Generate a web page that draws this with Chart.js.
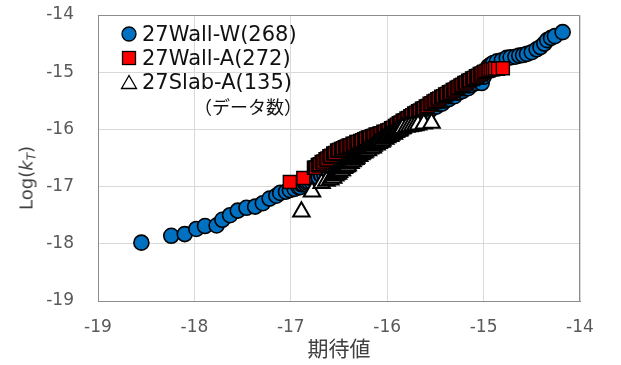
<!DOCTYPE html>
<html>
<head>
<meta charset="utf-8">
<script src="https://cdn.jsdelivr.net/npm/chart.js@4/dist/chart.umd.min.js"></script>
<style>
  html, body { margin: 0; padding: 0; background: #fff; }
  #wrap { position: relative; width: 621px; height: 365px; }
  #c { position: absolute; left: 0; top: 0; }
  #ytitle {
    position: absolute; left: 27px; top: 178px;
    transform: translate(-50%, -50%) rotate(-90deg);
    font: 18px "DejaVu Sans", "Noto Sans CJK JP", sans-serif; color: #404040;
    white-space: nowrap;
  }
  #ytitle sub { font-size: 12px; vertical-align: -3px; }
  #legend {
    position: absolute; left: 119px; top: 22px;
    font: 21px "DejaVu Sans", "Noto Sans CJK JP", sans-serif; color: #111;
    line-height: 24px; white-space: nowrap;
  }
  .row { height: 24px; display: flex; align-items: center; }
  .mk { width: 20px; height: 24px; display: flex; align-items: center; justify-content: center; margin-right: 3px; }
  .note { padding-left: 75px; font-size: 18px; font-family: "Noto Sans CJK JP", sans-serif; }
</style>
</head>
<body>
<div id="wrap">
  <canvas id="c" width="621" height="365"></canvas>
  <div id="ytitle">Log(<i>k</i><sub><i>T</i></sub>)</div>
  <div id="legend"></div>
</div>
<script>
// ---- data ----
const seriesLabels = ["27Wall-W(268)", "27Wall-A(272)", "27Slab-A(135)"];
const legendNote = "（データ数）";
const xTitle = "期待値";
const axisMin = -19;
const axisMax = -14;

// 27Wall-W : [expected, log kT]
const wallW = [
  [-18.55,-17.98],[-18.24,-17.86],[-18.10,-17.83],[-17.98,-17.74],[-17.89,-17.69],[-17.77,-17.68],[-17.71,-17.58],[-17.63,-17.50],
  [-17.55,-17.42],[-17.46,-17.37],[-17.37,-17.35],[-17.29,-17.29],[-17.22,-17.21],[-17.15,-17.16],[-17.11,-17.11],[-17.05,-17.09],
  [-17.01,-17.06],[-16.96,-17.04],[-16.92,-17.01],
  [-16.90,-17.01],[-16.89,-16.96],[-16.87,-16.96],[-16.86,-16.92],[-16.84,-16.96],[-16.83,-16.93],[-16.81,-16.92],[-16.80,-16.86],
  [-16.78,-16.92],[-16.77,-16.87],[-16.75,-16.83],[-16.74,-16.86],[-16.72,-16.79],[-16.71,-16.84],[-16.69,-16.79],[-16.68,-16.80],
  [-16.66,-16.73],[-16.65,-16.80],[-16.63,-16.74],[-16.62,-16.71],[-16.60,-16.73],[-16.59,-16.67],[-16.57,-16.72],[-16.56,-16.67],
  [-16.54,-16.67],[-16.53,-16.61],[-16.51,-16.67],[-16.50,-16.62],[-16.48,-16.58],[-16.47,-16.61],[-16.45,-16.54],[-16.44,-16.59],
  [-16.42,-16.53],[-16.41,-16.54],[-16.39,-16.47],[-16.38,-16.54],[-16.36,-16.47],[-16.35,-16.44],[-16.33,-16.46],[-16.32,-16.40],
  [-16.30,-16.44],[-16.29,-16.39],[-16.27,-16.39],[-16.26,-16.33],[-16.24,-16.39],[-16.23,-16.34],[-16.21,-16.30],[-16.20,-16.33],
  [-16.18,-16.26],[-16.17,-16.31],[-16.15,-16.25],[-16.14,-16.26],[-16.12,-16.19],[-16.11,-16.25],[-16.09,-16.19],[-16.08,-16.16],
  [-16.06,-16.18],[-16.05,-16.12],[-16.03,-16.16],[-16.02,-16.11],[-16.00,-16.11],[-15.99,-16.03],[-15.97,-16.09],[-15.96,-16.04],
  [-15.94,-16.00],[-15.93,-16.03],[-15.91,-15.96],[-15.90,-16.01],[-15.88,-15.95],[-15.87,-15.96],[-15.85,-15.89],[-15.84,-15.96],
  [-15.82,-15.90],[-15.81,-15.87],[-15.79,-15.89],[-15.78,-15.83],[-15.76,-15.87],[-15.75,-15.82],[-15.73,-15.82],[-15.72,-15.76],
  [-15.70,-15.82],[-15.69,-15.77],[-15.67,-15.73],[-15.66,-15.76],[-15.64,-15.69],[-15.63,-15.74],[-15.61,-15.68],[-15.60,-15.69],
  [-15.58,-15.62],[-15.57,-15.69],[-15.55,-15.63],[-15.54,-15.60],[-15.52,-15.62],[-15.51,-15.56],[-15.49,-15.60],[-15.48,-15.55],
  [-15.46,-15.55],[-15.45,-15.49],[-15.43,-15.55],[-15.42,-15.50],[-15.40,-15.46],[-15.39,-15.49],[-15.37,-15.42],[-15.36,-15.47],
  [-15.34,-15.41],[-15.33,-15.42],[-15.31,-15.35],[-15.30,-15.42],[-15.28,-15.36],[-15.27,-15.33],[-15.25,-15.35],[-15.24,-15.29],
  [-15.22,-15.33],[-15.21,-15.28],[-15.19,-15.28],[-15.18,-15.22],[-15.16,-15.28],[-15.15,-15.23],[-15.13,-15.19],[-15.12,-15.22],
  [-15.10,-15.15],[-15.08,-15.19],[-15.06,-15.13],[-15.04,-15.12],[-15.02,-15.19],[-15.00,-15.08],[-14.98,-15.00],[-14.96,-14.93],
  [-14.95,-14.90],[-14.92,-14.86],[-14.90,-14.84],[-14.86,-14.81],[-14.81,-14.79],[-14.76,-14.75],[-14.72,-14.74],[-14.67,-14.73],
  [-14.63,-14.71],[-14.59,-14.70],[-14.55,-14.68],[-14.50,-14.65],[-14.45,-14.60],[-14.41,-14.56],[-14.37,-14.50],[-14.34,-14.44],
  [-14.30,-14.40],[-14.26,-14.37],[-14.18,-14.30]
];

// 27Wall-A : [expected, log kT]
const wallA = [
  [-17.01,-16.92],[-16.87,-16.85],
  [-16.76,-16.67],[-16.75,-16.67],[-16.74,-16.67],[-16.72,-16.62],[-16.71,-16.63],[-16.70,-16.61],[-16.68,-16.57],[-16.67,-16.58],
  [-16.66,-16.56],[-16.64,-16.52],[-16.63,-16.53],[-16.62,-16.51],[-16.60,-16.47],[-16.59,-16.48],[-16.58,-16.46],[-16.56,-16.42],
  [-16.55,-16.43],[-16.54,-16.41],[-16.52,-16.37],[-16.51,-16.38],[-16.50,-16.36],[-16.48,-16.34],[-16.47,-16.35],[-16.46,-16.33],
  [-16.44,-16.31],[-16.43,-16.32],[-16.42,-16.30],[-16.40,-16.28],[-16.39,-16.29],[-16.38,-16.28],[-16.36,-16.25],[-16.35,-16.27],
  [-16.34,-16.25],[-16.32,-16.22],[-16.31,-16.24],[-16.30,-16.22],[-16.28,-16.20],[-16.27,-16.21],[-16.26,-16.19],[-16.24,-16.17],
  [-16.23,-16.18],[-16.22,-16.16],[-16.20,-16.14],[-16.19,-16.15],[-16.18,-16.14],[-16.16,-16.12],[-16.15,-16.13],[-16.14,-16.11],
  [-16.12,-16.09],[-16.11,-16.11],[-16.10,-16.09],[-16.08,-16.07],[-16.07,-16.08],[-16.06,-16.07],[-16.04,-16.04],[-16.03,-16.06],
  [-16.02,-16.04],[-16.00,-16.02],[-15.99,-16.03],[-15.98,-16.01],[-15.96,-15.98],[-15.95,-15.99],[-15.94,-15.97],[-15.92,-15.94],
  [-15.91,-15.95],[-15.90,-15.92],[-15.88,-15.89],[-15.87,-15.90],[-15.86,-15.88],[-15.84,-15.85],[-15.83,-15.86],[-15.82,-15.84],
  [-15.80,-15.81],[-15.79,-15.82],[-15.78,-15.80],[-15.76,-15.77],[-15.75,-15.78],[-15.74,-15.75],[-15.72,-15.72],[-15.71,-15.73],
  [-15.70,-15.71],[-15.68,-15.68],[-15.67,-15.69],[-15.66,-15.67],[-15.64,-15.64],[-15.63,-15.65],[-15.62,-15.63],[-15.60,-15.60],
  [-15.59,-15.61],[-15.58,-15.59],[-15.56,-15.55],[-15.55,-15.56],[-15.54,-15.54],[-15.52,-15.51],[-15.51,-15.52],[-15.50,-15.50],
  [-15.48,-15.47],[-15.47,-15.48],[-15.46,-15.46],[-15.44,-15.43],[-15.43,-15.44],[-15.42,-15.42],[-15.40,-15.39],[-15.39,-15.40],
  [-15.38,-15.38],[-15.36,-15.35],[-15.35,-15.36],[-15.34,-15.34],[-15.32,-15.31],[-15.31,-15.32],[-15.30,-15.30],[-15.28,-15.27],
  [-15.27,-15.28],[-15.26,-15.26],[-15.24,-15.23],[-15.23,-15.24],[-15.22,-15.22],[-15.20,-15.19],[-15.19,-15.20],[-15.18,-15.18],
  [-15.16,-15.15],[-15.15,-15.16],[-15.14,-15.14],[-15.12,-15.11],[-15.11,-15.12],[-15.10,-15.10],[-15.08,-15.07],[-15.07,-15.08],
  [-15.06,-15.06],[-15.04,-15.03],[-15.03,-15.04],[-15.02,-15.02],[-15.00,-15.00],[-14.99,-14.99],[-14.97,-14.98],[-14.95,-14.97],
  [-14.94,-14.96],[-14.92,-14.95],[-14.90,-14.95],[-14.88,-14.93],[-14.85,-14.94],[-14.80,-14.93]
];

// 27Slab-A : [expected, log kT]
const slabA = [
  [-16.89,-17.44],[-16.78,-17.09],[-16.68,-16.94],[-16.63,-16.90],[-16.59,-16.88],
  [-16.57,-16.84],[-16.56,-16.85],[-16.54,-16.81],[-16.53,-16.79],[-16.51,-16.78],[-16.50,-16.75],[-16.48,-16.72],[-16.47,-16.72],
  [-16.45,-16.68],[-16.44,-16.66],[-16.42,-16.65],[-16.41,-16.63],[-16.39,-16.59],[-16.38,-16.59],[-16.36,-16.56],[-16.35,-16.53],
  [-16.33,-16.52],[-16.32,-16.50],[-16.30,-16.46],[-16.29,-16.47],[-16.27,-16.44],[-16.26,-16.42],[-16.24,-16.41],[-16.23,-16.39],
  [-16.21,-16.36],[-16.20,-16.37],[-16.18,-16.34],[-16.17,-16.32],[-16.15,-16.32],[-16.14,-16.29],[-16.12,-16.26],[-16.11,-16.27],
  [-16.09,-16.24],[-16.08,-16.22],[-16.06,-16.22],[-16.05,-16.20],[-16.03,-16.16],[-16.02,-16.17],[-16.00,-16.14],[-15.99,-16.12],
  [-15.97,-16.12],[-15.96,-16.10],[-15.94,-16.07],[-15.93,-16.08],[-15.91,-16.05],[-15.90,-16.03],[-15.88,-16.03],[-15.87,-16.01],
  [-15.85,-15.99],[-15.84,-15.98],[-15.80,-15.96],[-15.77,-15.95],[-15.74,-15.94],[-15.71,-15.93],[-15.68,-15.92],[-15.62,-15.90],
  [-15.54,-15.89]
];

function pts(arr) { return arr.map((p) => ({ x: p[0], y: p[1] })); }

const gridColor = '#d9d9d9';
const frameColor = '#8c8c8c';
const tickFont = { family: '"DejaVu Sans", "Noto Sans CJK JP", sans-serif', size: 17 };

// closes the plot-area frame on the top and right sides
const framePlugin = {
  id: 'frame',
  afterDraw(chart) {
    const { ctx, chartArea: a } = chart;
    ctx.save();
    ctx.strokeStyle = frameColor;
    ctx.lineWidth = 1;
    ctx.beginPath();
    ctx.moveTo(Math.round(a.left), Math.round(a.top) + 0.5);
    ctx.lineTo(Math.round(a.right) - 0.5, Math.round(a.top) + 0.5);
    ctx.lineTo(Math.round(a.right) - 0.5, Math.round(a.bottom));
    ctx.stroke();
    ctx.restore();
  }
};

const chart = new Chart(document.getElementById('c'), {
  type: 'scatter',
  data: {
    datasets: [
      { label: seriesLabels[0], data: pts(wallW), order: 3,
        pointStyle: 'circle', pointRadius: 7.5, pointHoverRadius: 7.5,
        backgroundColor: '#0070C0', borderColor: '#000', borderWidth: 1.6 },
      { label: seriesLabels[1], data: pts(wallA), order: 2,
        pointStyle: 'rect', pointRadius: 9.2, pointHoverRadius: 9.2,
        backgroundColor: '#FF0000', borderColor: '#000', borderWidth: 1.4 },
      { label: seriesLabels[2], data: pts(slabA), order: 1,
        pointStyle: 'triangle', pointRadius: 9.5, pointHoverRadius: 9.5,
        backgroundColor: '#FFFFFF', borderColor: '#000', borderWidth: 2 }
    ]
  },
  options: {
    responsive: false,
    animation: false,
    events: [],
    layout: { padding: { left: 0, right: 41, top: 15, bottom: 0 } },
    plugins: { legend: { display: false }, tooltip: { enabled: false } },
    scales: {
      x: {
        type: 'linear', min: axisMin, max: axisMax,
        afterFit: (s) => { s.height = 64; },
        ticks: { stepSize: 1, color: '#595959', font: tickFont, padding: 16, maxRotation: 0 },
        grid: { color: gridColor, drawTicks: false, lineWidth: 1 },
        border: { color: frameColor, width: 1 },
        title: { display: true, text: xTitle, color: '#404040',
          font: { family: '"Noto Sans CJK JP", sans-serif', size: 21 }, padding: { top: 0, bottom: 4 } }
      },
      y: {
        type: 'linear', min: axisMin, max: axisMax,
        afterFit: (s) => { s.width = 98; s.paddingTop = 0; s.paddingBottom = 0; },
        ticks: { stepSize: 1, color: '#595959', font: tickFont, padding: 24 },
        grid: { color: gridColor, drawTicks: false, lineWidth: 1 },
        border: { color: frameColor, width: 1 }
      }
    }
  },
  plugins: [framePlugin]
});

// HTML legend built from the chart's datasets
(function buildLegend() {
  const box = document.getElementById('legend');
  chart.data.datasets.forEach((ds) => {
    const row = document.createElement('div');
    row.className = 'row';
    const mk = document.createElement('span');
    mk.className = 'mk';
    if (ds.pointStyle === 'circle') {
      mk.innerHTML = '<svg width="16" height="16"><circle cx="8" cy="8" r="7" fill="' + ds.backgroundColor + '" stroke="#000" stroke-width="1.3"/></svg>';
    } else if (ds.pointStyle === 'rect') {
      mk.innerHTML = '<svg width="16" height="16"><rect x="1.5" y="1.5" width="13" height="13" fill="' + ds.backgroundColor + '" stroke="#000" stroke-width="1.3"/></svg>';
    } else {
      mk.innerHTML = '<svg width="18" height="16"><polygon points="9,1.5 16.5,14.5 1.5,14.5" fill="#fff" stroke="#000" stroke-width="1.3"/></svg>';
    }
    const tx = document.createElement('span');
    tx.textContent = ds.label;
    row.appendChild(mk);
    row.appendChild(tx);
    box.appendChild(row);
  });
  const note = document.createElement('div');
  note.className = 'row note';
  note.textContent = legendNote;
  box.appendChild(note);
})();
</script>
</body>
</html>
